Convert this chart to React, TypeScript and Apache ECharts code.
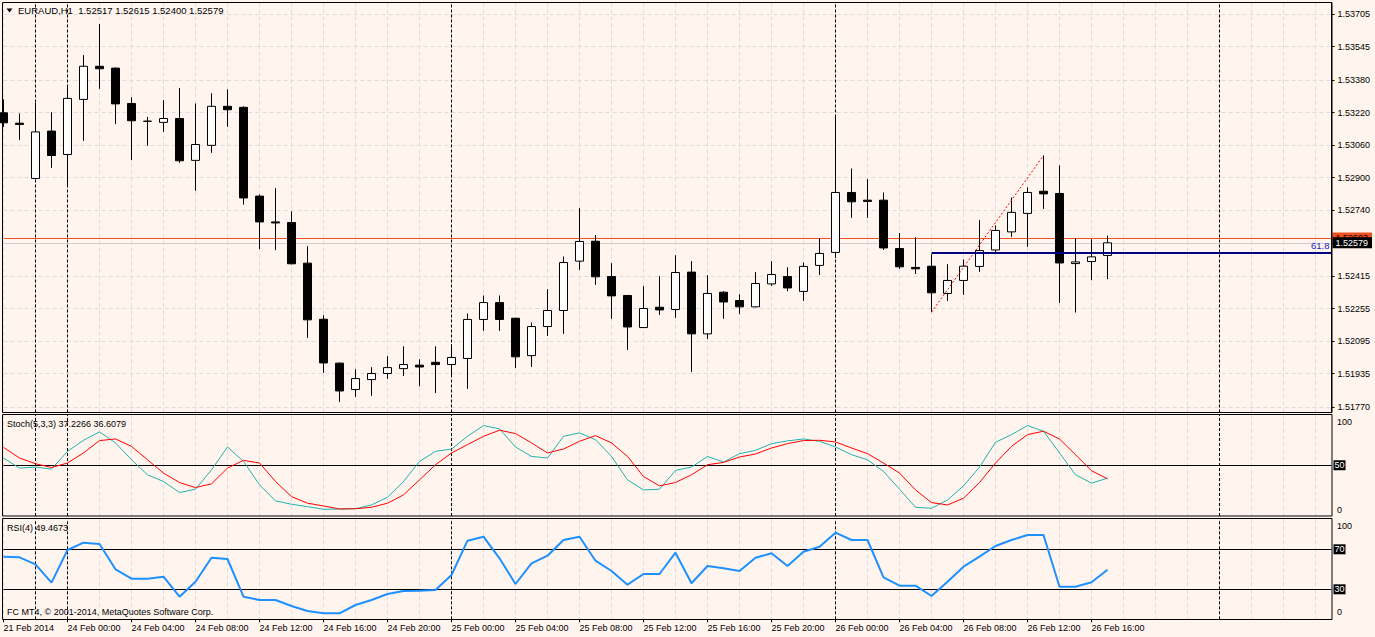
import React, { useEffect, useRef } from "react";
import * as echarts from "echarts";

// ---------- DATA ----------
const opens = [1.53219, 1.53168, 1.52896, 1.53129, 1.53014, 1.53285, 1.53448, 1.53439, 1.53265, 1.53178,
  1.53172, 1.53191, 1.52985, 1.53059, 1.53251, 1.53246, 1.52809, 1.52682, 1.52679, 1.52479,
  1.52203, 1.51987, 1.51857, 1.51906, 1.51936, 1.51960, 1.51977, 1.51991, 1.51980, 1.52010,
  1.52202, 1.52285, 1.52208, 1.52024, 1.52167, 1.52246, 1.52489, 1.52587, 1.52413, 1.52320,
  1.52162, 1.52262, 1.52251, 1.52435, 1.52131, 1.52336, 1.52295, 1.52264, 1.52377, 1.52413,
  1.52340, 1.52468, 1.52532, 1.52827, 1.52789, 1.52789, 1.52551, 1.52458, 1.52464, 1.52330,
  1.52394, 1.52463, 1.52544, 1.52633, 1.52724, 1.52833, 1.52822, 1.52477, 1.52487, 1.52517];
const highs = [1.53285, 1.53216, 1.53268, 1.53222, 1.53347, 1.53503, 1.53656, 1.53442, 1.53296, 1.53199,
  1.53282, 1.53341, 1.53265, 1.53315, 1.53334, 1.53251, 1.52817, 1.52848, 1.52734, 1.52563,
  1.52223, 1.51990, 1.51957, 1.51967, 1.52021, 1.52070, 1.52006, 1.52070, 1.52080, 1.52231,
  1.52320, 1.52320, 1.52210, 1.52187, 1.52351, 1.52512, 1.52750, 1.52617, 1.52479, 1.52322,
  1.52366, 1.52415, 1.52518, 1.52489, 1.52420, 1.52341, 1.52326, 1.52435, 1.52489, 1.52459,
  1.52482, 1.52602, 1.53208, 1.52945, 1.52893, 1.52827, 1.52627, 1.52607, 1.52523, 1.52474,
  1.52497, 1.52691, 1.52665, 1.52802, 1.52852, 1.53009, 1.52960, 1.52602, 1.52597, 1.52615];
const lows = [1.53150, 1.53085, 1.52893, 1.52948, 1.52862, 1.53081, 1.53337, 1.53163, 1.52986, 1.53057,
  1.53125, 1.52973, 1.52835, 1.53022, 1.53150, 1.52767, 1.52548, 1.52543, 1.52473, 1.52111,
  1.51939, 1.51796, 1.51821, 1.51826, 1.51909, 1.51924, 1.51873, 1.51840, 1.51919, 1.51860,
  1.52146, 1.52146, 1.51963, 1.51968, 1.52121, 1.52131, 1.52446, 1.52372, 1.52205, 1.52052,
  1.52160, 1.52224, 1.52210, 1.51944, 1.52106, 1.52205, 1.52228, 1.52262, 1.52367, 1.52341,
  1.52293, 1.52421, 1.52504, 1.52702, 1.52702, 1.52544, 1.52451, 1.52426, 1.52238, 1.52293,
  1.52323, 1.52436, 1.52527, 1.52608, 1.52559, 1.52746, 1.52283, 1.52236, 1.52395, 1.52400];
const closes = [1.53170, 1.53162, 1.53125, 1.53009, 1.53290, 1.53448, 1.53436, 1.53263, 1.53180, 1.53177,
  1.53191, 1.52983, 1.53063, 1.53251, 1.53234, 1.52800, 1.52682, 1.52677, 1.52476, 1.52200,
  1.51988, 1.51850, 1.51911, 1.51936, 1.51965, 1.51980, 1.51968, 1.51980, 1.52015, 1.52202,
  1.52285, 1.52202, 1.52018, 1.52167, 1.52246, 1.52482, 1.52586, 1.52412, 1.52318, 1.52165,
  1.52256, 1.52249, 1.52433, 1.52131, 1.52330, 1.52288, 1.52264, 1.52379, 1.52423, 1.52357,
  1.52463, 1.52527, 1.52827, 1.52781, 1.52783, 1.52554, 1.52461, 1.52451, 1.52333, 1.52394,
  1.52464, 1.52541, 1.52640, 1.52729, 1.52827, 1.52820, 1.52480, 1.52485, 1.52510, 1.52579];

const stochMain = [57.1, 47.2, 48.2, 46.2, 63.7, 74.6, 82.9, 72.0, 55.4, 40.6,
  34.0, 23.1, 26.4, 45.5, 68.0, 53.8, 30.7, 14.9, 11.6, 9.2,
  6.6, 6.9, 7.2, 10.9, 18.5, 34.0, 53.8, 63.7, 66.0, 78.5,
  89.1, 85.8, 68.0, 58.7, 57.1, 78.5, 81.9, 75.2, 58.7, 35.6,
  25.7, 26.4, 44.9, 48.2, 58.7, 53.2, 61.4, 64.7, 71.3, 74.0,
  75.9, 73.6, 68.0, 60.4, 55.4, 43.9, 26.4, 8.6, 7.6, 15.8,
  29.7, 48.2, 72.6, 80.2, 89.1, 83.5, 62.1, 40.6, 32.4, 37.2266];
const stochSignal = [67.6, 57.1, 51.5, 47.8, 52.2, 62.1, 74.3, 75.9, 68.6, 55.4,
  42.3, 33.0, 28.0, 31.7, 47.2, 54.8, 52.2, 34.0, 19.1, 12.6,
  9.9, 6.9, 7.2, 8.6, 12.6, 20.8, 35.6, 50.5, 62.1, 70.3,
  78.5, 84.5, 81.2, 72.0, 62.1, 66.0, 73.6, 79.2, 72.0, 58.7,
  38.9, 29.7, 33.0, 40.6, 50.5, 52.8, 58.1, 61.1, 67.0, 71.3,
  74.3, 74.6, 73.0, 67.0, 61.4, 52.2, 42.3, 25.7, 13.2, 10.9,
  17.5, 33.0, 52.2, 68.6, 80.2, 83.5, 75.9, 60.4, 44.6, 36.6079];
const rsiValues = [62.6, 62.0, 55.0, 36.7, 69.3, 76.6, 75.3, 50.0, 40.6, 40.6,
  42.6, 22.6, 37.6, 61.6, 60.3, 22.6, 19.3, 19.3, 13.3, 8.3,
  6.0, 6.0, 14.3, 19.3, 25.3, 28.3, 28.6, 29.3, 44.3, 78.6,
  82.6, 61.0, 35.3, 56.0, 63.6, 79.3, 82.6, 58.6, 48.3, 34.6,
  45.3, 45.3, 66.6, 36.0, 53.3, 51.0, 48.3, 61.6, 66.0, 53.3,
  67.6, 72.6, 86.6, 79.3, 79.3, 42.0, 33.6, 33.6, 23.3, 37.6,
  52.6, 62.6, 73.3, 79.3, 84.3, 84.3, 32.6, 32.6, 37.0, 49.4673];

// hourly bar times (category axis), including empty future bars on the right
const categories: string[] = ["21 Feb 22:00", "21 Feb 23:00", "23 Feb 22:00", "23 Feb 23:00"];
["24 Feb", "25 Feb", "26 Feb", "27 Feb"].forEach((d) => {
  for (let h = 0; h < 24; h++) categories.push(`${d} ${String(h).padStart(2, "0")}:00`);
});
const CATS = categories.slice(0, 84);
const firstTickLabel = "21 Feb 2014";

const priceTicks = [1.5177, 1.51935, 1.52095, 1.52255, 1.52415, 1.52575, 1.5274, 1.529, 1.5306, 1.5322, 1.5338, 1.53545, 1.53705];
const priceHiddenLabel = 1.52575; // covered by the current price boxes
const bidPrice = 1.52579;
const askPrice = 1.52603;
const daySeparators = ["23 Feb 22:00", "24 Feb 00:00", "25 Feb 00:00", "26 Feb 00:00", "27 Feb 00:00"];
const fibStart = { time: "26 Feb 06:00", price: 1.52238 };
const fibEnd = { time: "26 Feb 13:00", price: 1.53009 };
const fibLevelPct = 61.8;
const stochLevels = [50];
const rsiLevels = [70, 30];

const title = "EURAUD,H1\u00a0\u00a01.52517 1.52615 1.52400 1.52579";
const stochTitle = "Stoch(5,3,3) 37.2266 36.6079";
const rsiTitle = "RSI(4) 49.4673";
const copyright = "FC MT4, © 2001-2014, MetaQuotes Software Corp.";

// ---------- STYLE ----------
const BG = "#FFF5EE";
const FONT = "'Liberation Sans', Arial, sans-serif";
const FS = 9;
const GRID_LEFT = 3.5;
const GRID_W = 1328;

export default function App() {
  const ref = useRef<HTMLDivElement>(null);

  useEffect(() => {
    document.body.style.margin = "0";
    document.body.style.background = BG;
    if (!ref.current) return;
    const chart = echarts.init(ref.current, undefined, { renderer: "svg" });

    const fibLevel = fibEnd.price - (fibLevelPct / 100) * (fibEnd.price - fibStart.price);

    const sepLines = daySeparators.map((t) => ({
      xAxis: t,
      lineStyle: { color: "#000", type: [3, 2], width: 1 },
      label: { show: false },
    }));

    const levelLine = (v: number) => ({
      yAxis: v,
      lineStyle: { color: "#000", type: "solid", width: 1 },
      label: {
        show: true, position: "end", formatter: String(v), distance: 2,
        backgroundColor: "#000", color: "#fff", padding: [1, 1, 0, 1],
        fontSize: FS, fontFamily: FONT,
      },
    });

    const xAxisBase = (gi: number) => ({
      type: "category",
      gridIndex: gi,
      data: CATS,
      boundaryGap: false,
      axisLine: { show: false },
      axisTick: { show: false },
      axisLabel: { show: false },
      splitLine: {
        show: true,
        interval: (i: number) => i % 2 === 0,
        lineStyle: { color: "#dcdcdc", type: [4, 3], width: 1 },
      },
    });

    const textEl = (text: string, x: number, y: number, extra: any = {}) => ({
      type: "text",
      z: 100,
      silent: true,
      style: {
        text, x, y, fill: "#000", fontSize: FS, fontFamily: FONT,
        align: "left", verticalAlign: "middle", textAlign: "left", textVerticalAlign: "middle",
        ...extra,
      },
    });

    const option: any = {
      animation: false,
      backgroundColor: BG,
      grid: [
        { left: GRID_LEFT, top: 2.5, width: GRID_W, height: 410 },
        { left: GRID_LEFT, top: 414.5, width: GRID_W, height: 101.5 },
        { left: GRID_LEFT, top: 519.3, width: GRID_W, height: 100 },
      ],
      xAxis: [
        xAxisBase(0),
        xAxisBase(1),
        {
          ...xAxisBase(2),
          axisLine: { show: true, lineStyle: { color: "#000", width: 1 } },
          axisTick: {
            show: true, length: 3,
            interval: (i: number) => i % 4 === 0 && i < closes.length,
            lineStyle: { color: "#000" },
          },
          axisLabel: {
            show: true,
            interval: (i: number) => i % 4 === 0 && i < closes.length,
            formatter: (v: string, i: number) => (i === 0 ? firstTickLabel : v),
            align: "left", margin: 4, color: "#000", fontSize: FS, fontFamily: FONT,
            showMinLabel: true,
          },
        },
      ],
      yAxis: [
        {
          type: "value", gridIndex: 0, position: "right", min: 1.51744, max: 1.53762, scale: true,
          axisLine: { show: true, lineStyle: { color: "#000" } },
          axisTick: { show: true, length: 3, customValues: priceTicks, lineStyle: { color: "#000" } },
          axisLabel: {
            customValues: priceTicks.filter((v) => v !== priceHiddenLabel),
            formatter: (v: number) => v.toFixed(5),
            margin: 6, color: "#000", fontSize: FS, fontFamily: FONT,
          },
          splitLine: { show: false },
        },
        { type: "value", gridIndex: 1, min: 0, max: 100, show: false, splitLine: { show: false } },
        { type: "value", gridIndex: 2, min: 0, max: 100, show: false, splitLine: { show: false } },
      ],
      series: [
        {
          name: "mainBackground", type: "line", xAxisIndex: 0, yAxisIndex: 0, data: closes, z: 1, silent: true,
          symbol: "none", lineStyle: { opacity: 0 },
          markLine: {
            z: 1, silent: true, symbol: ["none", "none"], animation: false, precision: 5,
            label: { show: false },
            data: [
              ...priceTicks.map((v) => ({
                yAxis: v, lineStyle: { color: "#dcdcdc", type: [4, 3], width: 1 }, label: { show: false },
              })),
              ...sepLines,
              {
                yAxis: askPrice,
                lineStyle: { color: "#f0501e", type: "solid", width: 1 },
                label: {
                  show: true, position: "end", formatter: askPrice.toFixed(5), distance: 1,
                  backgroundColor: "#f0501e", color: "#000", padding: [1, 4, 1, 3], fontSize: FS, fontFamily: FONT,
                },
              },
              {
                yAxis: bidPrice,
                lineStyle: { color: "#cfcfcf", type: "solid", width: 1 },
                label: {
                  show: true, position: "end", formatter: bidPrice.toFixed(5), distance: 1,
                  backgroundColor: "#000", color: "#fff", padding: [1, 4, 1, 3], fontSize: FS, fontFamily: FONT,
                },
              },
            ],
          },
        },
        {
          name: "EURAUD,H1", type: "candlestick", xAxisIndex: 0, yAxisIndex: 0, z: 3,
          barWidth: 9,
          data: opens.map((o, i) => [o, closes[i], lows[i], highs[i]]),
          itemStyle: { color: "#fff", color0: "#000", borderColor: "#000", borderColor0: "#000", borderWidth: 1 },
          markLine: {
            z: 6, silent: true, symbol: ["none", "none"], animation: false, precision: 5,
            data: [
              [
                { coord: [fibStart.time, fibStart.price], lineStyle: { color: "#ff0000", type: [2, 2], width: 1 }, label: { show: false } },
                { coord: [fibEnd.time, fibEnd.price] },
              ],
              [
                {
                  coord: [fibStart.time, fibLevel],
                  lineStyle: { color: "#000080", type: "solid", width: 2 },
                  label: {
                    show: true, position: "insideEndTop", formatter: String(fibLevelPct), distance: 2,
                    color: "#2020c0", fontSize: FS + 0.5, fontFamily: FONT,
                  },
                },
                { coord: [CATS[CATS.length - 1], fibLevel] },
              ],
            ],
          },
        },
        {
          name: "stochBackground", type: "line", xAxisIndex: 1, yAxisIndex: 1, data: stochMain, z: 1, silent: true,
          symbol: "none", lineStyle: { opacity: 0 },
          markLine: {
            z: 1, silent: true, symbol: ["none", "none"], animation: false, precision: 5, label: { show: false },
            data: [...sepLines, ...stochLevels.map(levelLine)],
          },
        },
        {
          name: "Stoch main", type: "line", xAxisIndex: 1, yAxisIndex: 1, data: stochMain, z: 3,
          symbol: "none", lineStyle: { color: "#20B2AA", width: 1 },
        },
        {
          name: "Stoch signal", type: "line", xAxisIndex: 1, yAxisIndex: 1, data: stochSignal, z: 4,
          symbol: "none", lineStyle: { color: "#ff0000", width: 1 },
        },
        {
          name: "rsiBackground", type: "line", xAxisIndex: 2, yAxisIndex: 2, data: rsiValues, z: 1, silent: true,
          symbol: "none", lineStyle: { opacity: 0 },
          markLine: {
            z: 1, silent: true, symbol: ["none", "none"], animation: false, precision: 5, label: { show: false },
            data: [...sepLines, ...rsiLevels.map(levelLine)],
          },
        },
        {
          name: "RSI(4)", type: "line", xAxisIndex: 2, yAxisIndex: 2, data: rsiValues, z: 3,
          symbol: "none", lineStyle: { color: "#1E90FF", width: 2 },
        },
      ],
      graphic: {
        elements: [
          { type: "rect", z: 100, silent: true, shape: { x: 2.5, y: 2.5, width: 1329.5, height: 410 }, style: { fill: "none", stroke: "#000", lineWidth: 1 } },
          { type: "rect", z: 100, silent: true, shape: { x: 2.5, y: 414.5, width: 1329.5, height: 101.5 }, style: { fill: "none", stroke: "#000", lineWidth: 1 } },
          { type: "rect", z: 100, silent: true, shape: { x: 2.5, y: 518.5, width: 1329.5, height: 101 }, style: { fill: "none", stroke: "#000", lineWidth: 1 } },
          { type: "polygon", z: 100, silent: true, shape: { points: [[6.5, 8.5], [12.5, 8.5], [9.5, 12.5]] }, style: { fill: "#000" } },
          textEl(title, 18, 10.5, { fontSize: 9.5 }),
          textEl(stochTitle, 7, 424),
          textEl(rsiTitle, 7, 527.5),
          textEl(copyright, 7, 612),
          textEl("100", 1337, 422),
          textEl("0", 1337, 509.5),
          textEl("100", 1337, 526),
          textEl("0", 1337, 612),
        ],
      },
    };

    chart.setOption(option);
    return () => chart.dispose();
  }, []);

  return <div ref={ref} style={{ width: 1375, height: 637 }} />;
}
